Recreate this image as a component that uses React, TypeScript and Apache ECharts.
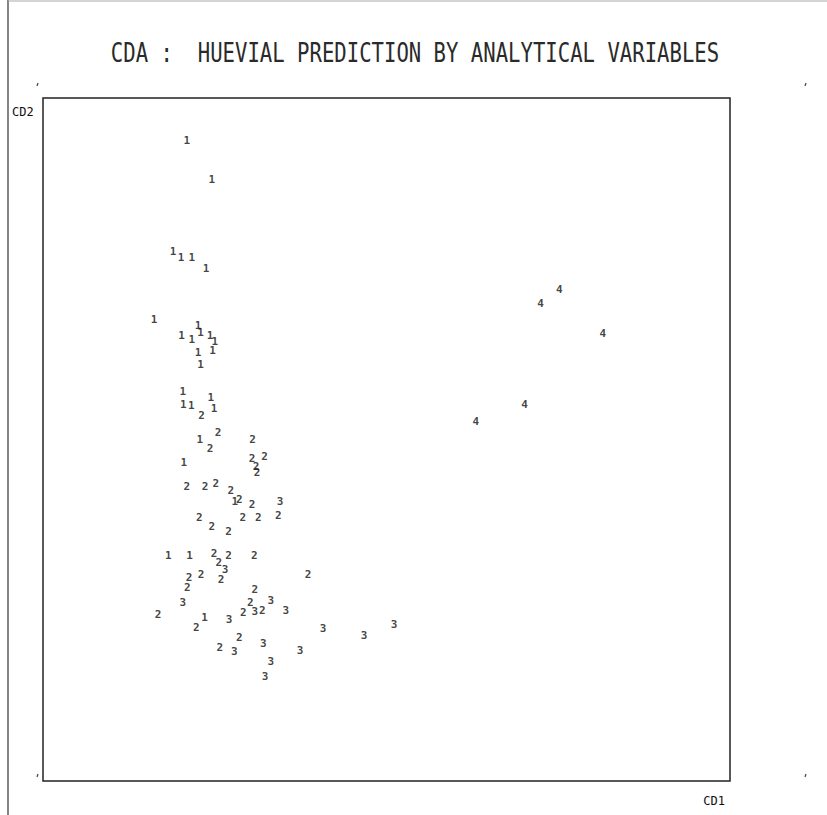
import React, { useEffect, useRef } from "react";
import * as echarts from "echarts";

const titleText = "CDA :  HUEVIAL PREDICTION BY ANALYTICAL VARIABLES";
const xAxisName = "CD1";
const yAxisName = "CD2";
const groupLabels = ["1", "2", "3", "4"];

// [CD1, CD2] scores
const group1 = [
  [-1.49, 5.25], [-1.05, 4.56], [-1.73, 3.3], [-1.59, 3.19], [-1.4, 3.19], [-1.15, 3.01],
  [-2.06, 2.1], [-1.29, 2.01], [-1.25, 1.88], [-1.58, 1.82], [-1.4, 1.76], [-1.08, 1.82],
  [-1.0, 1.72], [-1.04, 1.57], [-1.29, 1.53], [-1.25, 1.31], [-1.56, 0.84], [-1.55, 0.61],
  [-1.41, 0.59], [-1.07, 0.73], [-1.01, 0.54], [-1.26, 0.0], [-1.54, -0.41], [-0.65, -1.09],
  [-1.81, -2.03], [-1.44, -2.03], [-1.18, -3.12],
];
const group2 = [
  [-1.23, 0.43], [-0.94, 0.12], [-1.08, -0.15], [-0.34, 0.0], [-0.35, -0.33], [-0.13, -0.3],
  [-0.28, -0.47], [-0.26, -0.58], [-1.49, -0.83], [-1.17, -0.82], [-0.98, -0.77], [-0.72, -0.89],
  [-0.57, -1.06], [-0.35, -1.15], [-1.27, -1.37], [-0.51, -1.37], [-0.24, -1.37], [0.11, -1.34],
  [-1.05, -1.53], [-0.76, -1.61], [-1.01, -2.01], [-0.76, -2.03], [-0.93, -2.16], [-0.31, -2.03],
  [0.63, -2.38], [-1.24, -2.38], [-1.45, -2.43], [-1.48, -2.6], [-0.89, -2.46], [-0.3, -2.64],
  [-0.38, -2.87], [-0.5, -3.04], [-0.17, -3.0], [-1.99, -3.08], [-1.32, -3.3], [-0.57, -3.47],
  [-0.91, -3.65],
];
const group3 = [
  [0.14, -1.09], [-0.82, -2.29], [-1.56, -2.87], [-0.02, -2.82], [-0.3, -3.03], [0.24, -3.0],
  [-0.75, -3.17], [0.89, -3.32], [-0.15, -3.59], [0.49, -3.7], [-0.66, -3.72], [-0.02, -3.9],
  [-0.12, -4.16], [1.61, -3.45], [2.13, -3.25],
];
const group4 = [
  [5.02, 2.64], [4.69, 2.39], [5.78, 1.87], [4.41, 0.62], [3.56, 0.31],
];
const groups = [group1, group2, group3, group4];

export default function App() {
  const ref = useRef<HTMLDivElement>(null);
  useEffect(() => {
    document.body.style.margin = "0";
    document.body.style.overflow = "hidden";
    const chart = echarts.init(ref.current!, null, { renderer: "svg" });
    const mono = "'DejaVu Sans Mono', monospace";
    const series = groups.map((g, i) => ({
      type: "scatter",
      name: groupLabels[i],
      data: g,
      symbol: "circle",
      symbolSize: 1,
      itemStyle: { color: "rgba(0,0,0,0)" },
      label: {
        show: true,
        position: "inside",
        formatter: groupLabels[i],
        fontSize: 11,
        fontWeight: "bold",
        fontFamily: mono,
        color: "#111",
      },
      emphasis: { disabled: true },
    }));
    const mark = (x: number, y: number) => ({
      type: "line",
      shape: { x1: x, y1: y, x2: x + 1, y2: y - 3 },
      style: { stroke: "#444", lineWidth: 1.2 },
    });
    chart.setOption({
      animation: false,
      backgroundColor: "#fff",
      grid: { left: 43, top: 98, width: 687, height: 683, show: true, borderColor: "#222", borderWidth: 1.5, backgroundColor: "transparent" },
      xAxis: { type: "value", min: -4, max: 8, show: false },
      yAxis: { type: "value", min: -6, max: 6, show: false },
      series,
      graphic: [
        { type: "line", shape: { x1: 8, y1: 0, x2: 8, y2: 815 }, style: { stroke: "#333", lineWidth: 1.2 } },
        { type: "line", shape: { x1: 8, y1: 1, x2: 827, y2: 1 }, style: { stroke: "#aaa", lineWidth: 1 } },
        {
          type: "text",
          x: 415,
          y: 53,
          scaleX: 0.764,
          style: { text: titleText, font: `27px ${mono}`, textAlign: "center", textVerticalAlign: "middle", fill: "#2a2a2a" },
        },
        { type: "text", x: 12, y: 112, style: { text: yAxisName, font: `12px ${mono}`, textAlign: "left", textVerticalAlign: "middle", fill: "#111" } },
        { type: "text", x: 725, y: 801, style: { text: xAxisName, font: `12px ${mono}`, textAlign: "right", textVerticalAlign: "middle", fill: "#111" } },
        mark(37, 86),
        mark(805, 86),
        mark(37, 777),
        mark(805, 777),
      ],
    });
    return () => chart.dispose();
  }, []);
  return <div ref={ref} style={{ width: 827, height: 815 }} />;
}
